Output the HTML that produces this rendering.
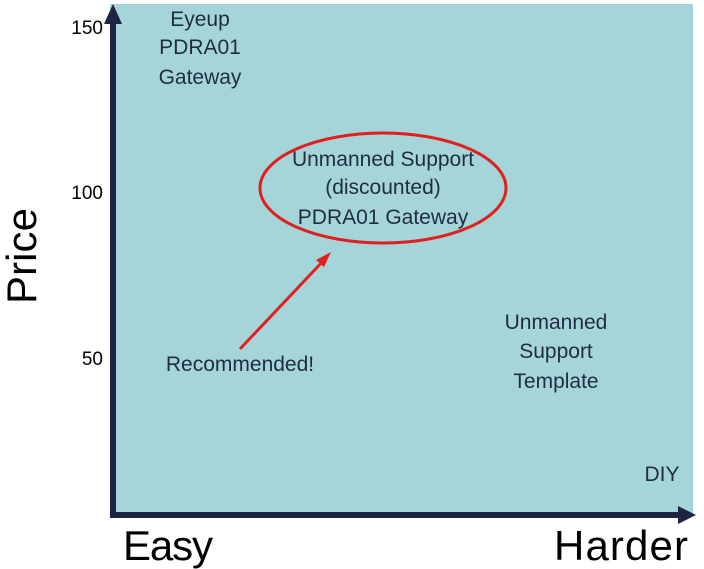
<!DOCTYPE html>
<html><head><meta charset="utf-8"><style>
html,body{margin:0;padding:0;background:#fff;}
svg{display:block;font-family:"Liberation Sans Narrow","Liberation Sans",sans-serif;}
</style></head><body>
<svg width="704" height="569" viewBox="0 0 704 569" xmlns="http://www.w3.org/2000/svg">
<rect x="110" y="4" width="583" height="512" fill="#a5d5d8"/>
<line x1="113" y1="20" x2="113" y2="518" stroke="#1e2542" stroke-width="6"/>
<polygon points="104,24 113,4 122,24" fill="#1e2542"/>
<line x1="110" y1="515" x2="682" y2="515" stroke="#1e2542" stroke-width="6"/>
<polygon points="678,506 696,515 678,524" fill="#1e2542"/>
<g font-size="19" fill="#000" text-anchor="end">
<text x="103" y="34">150</text>
<text x="103" y="199">100</text>
<text x="103" y="365">50</text>
</g>
<text transform="translate(36,256) rotate(-90)" font-size="42" text-anchor="middle" fill="#000" textLength="96">Price</text>
<text x="123" y="560" font-size="42" fill="#000" textLength="90">Easy</text>
<text x="554" y="560" font-size="42" fill="#000" textLength="134">Harder</text>
<g font-size="21" fill="#1f2d40" text-anchor="middle" font-family="Liberation Sans, sans-serif">
<text x="200" y="26">Eyeup</text>
<text x="200" y="54">PDRA01</text>
<text x="200" y="84">Gateway</text>
<text x="383" y="166">Unmanned Support</text>
<text x="383" y="194">(discounted)</text>
<text x="383" y="224">PDRA01 Gateway</text>
<text x="556" y="329">Unmanned</text>
<text x="556" y="358">Support</text>
<text x="556" y="388">Template</text>
<text x="240" y="371">Recommended!</text>
<text x="662" y="481">DIY</text>
</g>
<ellipse cx="383" cy="188" rx="123" ry="55" fill="none" stroke="#e02020" stroke-width="3"/>
<line x1="240" y1="349" x2="325" y2="259" stroke="#e02020" stroke-width="3"/>
<polygon points="331,252 316,260 324,267" fill="#e02020"/>
</svg>
</body></html>
